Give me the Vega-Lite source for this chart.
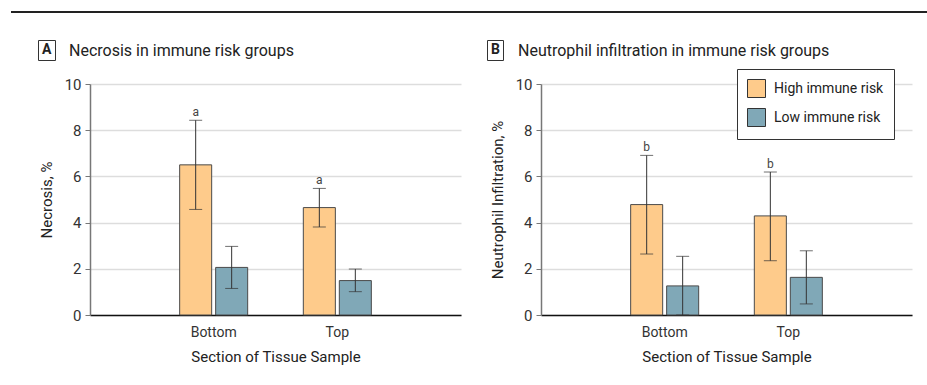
{
  "$schema": "https://vega.github.io/schema/vega-lite/v6.json",
  "background": "white",
  "padding": {"left": 11, "top": 6, "right": 0, "bottom": 5},
  "config": {
    "font": "Roboto, sans-serif",
    "view": {"stroke": null},
    "axis": {"labelColor": "#333", "titleColor": "#222", "labelFontSize": 15, "titleFontSize": 15, "titleFontWeight": "normal"},
    "legend": {"labelFontSize": 14, "labelColor": "#222"},
    "title": {"fontSize": 16, "fontWeight": "normal", "color": "#222", "anchor": "start", "frame": "group", "dy": 23}
  },
  "datasets": {
    "necrosis": [
      {"section": "Bottom", "group": "High immune risk", "mean": 6.5, "lower": 4.57, "upper": 8.43, "sig": "a"},
      {"section": "Bottom", "group": "Low immune risk", "mean": 2.06, "lower": 1.15, "upper": 2.97, "sig": ""},
      {"section": "Top", "group": "High immune risk", "mean": 4.65, "lower": 3.81, "upper": 5.48, "sig": "a"},
      {"section": "Top", "group": "Low immune risk", "mean": 1.49, "lower": 1.01, "upper": 1.99, "sig": ""}
    ],
    "neutrophil": [
      {"section": "Bottom", "group": "High immune risk", "mean": 4.78, "lower": 2.64, "upper": 6.91, "sig": "b"},
      {"section": "Bottom", "group": "Low immune risk", "mean": 1.26, "lower": 0, "upper": 2.54, "sig": ""},
      {"section": "Top", "group": "High immune risk", "mean": 4.29, "lower": 2.35, "upper": 6.19, "sig": "b"},
      {"section": "Top", "group": "Low immune risk", "mean": 1.63, "lower": 0.48, "upper": 2.78, "sig": ""}
    ]
  },
  "spacing": 22,
  "resolve": {"scale": {"color": "independent", "shape": "independent"}, "legend": {"color": "independent", "shape": "independent"}},
  "vconcat": [
    {
      "width": 916, "height": 2,
      "view": {"stroke": null, "fill": "#222"},
      "data": {"values": [{"t": ""}]},
      "mark": {"type": "text"},
      "encoding": {"text": {"field": "t"}}
    },
    {
      "spacing": 25,
      "resolve": {"scale": {"color": "independent", "shape": "independent"}, "legend": {"color": "independent", "shape": "independent"}},
      "hconcat": [
        {
          "width": 1, "height": 1,
          "data": {"values": [{"t": ""}]},
          "mark": {"type": "text"},
          "encoding": {"text": {"field": "t"}}
        },
        {
          "width": 371, "height": 231,
          "title": {"text": "Necrosis in immune risk groups", "dx": -21},
          "data": {"name": "necrosis"},
          "encoding": {
            "x": {"field": "section", "type": "nominal", "sort": ["Bottom", "Top"],
              "scale": {"paddingInner": 0.45, "paddingOuter": 0.725},
              "axis": {"title": "Section of Tissue Sample", "labelAngle": 0, "ticks": false, "domainColor": "#111", "domainWidth": 1.5, "labelPadding": 10, "labelFontSize": 14, "titlePadding": 10}},
            "xOffset": {"field": "group", "type": "nominal", "sort": ["High immune risk", "Low immune risk"], "scale": {"paddingInner": 0.11}}
          },
          "layer": [
            {
              "mark": {"type": "bar", "stroke": "#4a4a4a", "strokeWidth": 1},
              "encoding": {
                "y": {"field": "mean", "type": "quantitative", "title": "Necrosis, %",
                  "scale": {"domain": [0, 10]},
                  "axis": {"values": [0, 2, 4, 6, 8, 10], "tickSize": 5, "tickColor": "#777", "domainColor": "#777", "domainWidth": 1.5, "gridColor": "#dddddd", "gridWidth": 1.3, "labelPadding": 4, "titlePadding": 10}},
                "color": {"field": "group", "type": "nominal", "sort": ["High immune risk", "Low immune risk"],
                  "scale": {"domain": ["High immune risk", "Low immune risk"], "range": ["#FECB8B", "#80A8B7"]},
                  "legend": null}
              }
            },
            {
              "mark": {"type": "rule", "color": "#333", "strokeWidth": 1},
              "encoding": {"y": {"field": "lower", "type": "quantitative", "title": "Necrosis, %"}, "y2": {"field": "upper"}}
            },
            {
              "mark": {"type": "tick", "color": "#333", "size": 13, "thickness": 1},
              "encoding": {"y": {"field": "lower", "type": "quantitative", "title": "Necrosis, %"}}
            },
            {
              "mark": {"type": "tick", "color": "#333", "size": 13, "thickness": 1},
              "encoding": {"y": {"field": "upper", "type": "quantitative", "title": "Necrosis, %"}}
            },
            {
              "mark": {"type": "text", "fontSize": 12, "color": "#444", "dy": -8, "baseline": "middle"},
              "encoding": {"y": {"field": "upper", "type": "quantitative", "title": "Necrosis, %"}, "text": {"field": "sig"}}
            },
            {
              "mark": {"type": "point", "opacity": 0},
              "encoding": {
                "shape": {"datum": "A", "scale": {"range": ["square"]},
                  "legend": {"orient": "none", "legendX": -52, "legendY": -44, "title": null, "symbolSize": 1, "symbolOpacity": 0, "symbolStrokeWidth": 0, "labelOffset": -13, "padding": 3, "strokeColor": "#333", "fillColor": "white", "labelFontSize": 14, "labelFontWeight": "bold", "labelColor": "#222"}}
              }
            }
          ]
        },
        {
          "width": 371, "height": 231,
          "title": {"text": "Neutrophil infiltration in immune risk groups", "dx": -23},
          "data": {"name": "neutrophil"},
          "encoding": {
            "x": {"field": "section", "type": "nominal", "sort": ["Bottom", "Top"],
              "scale": {"paddingInner": 0.45, "paddingOuter": 0.725},
              "axis": {"title": "Section of Tissue Sample", "labelAngle": 0, "ticks": false, "domainColor": "#111", "domainWidth": 1.5, "labelPadding": 10, "labelFontSize": 14, "titlePadding": 10}},
            "xOffset": {"field": "group", "type": "nominal", "sort": ["High immune risk", "Low immune risk"], "scale": {"paddingInner": 0.11}}
          },
          "layer": [
            {
              "mark": {"type": "bar", "stroke": "#4a4a4a", "strokeWidth": 1},
              "encoding": {
                "y": {"field": "mean", "type": "quantitative", "title": "Neutrophil Infiltration, %",
                  "scale": {"domain": [0, 10]},
                  "axis": {"values": [0, 2, 4, 6, 8, 10], "tickSize": 5, "tickColor": "#777", "domainColor": "#777", "domainWidth": 1.5, "gridColor": "#dddddd", "gridWidth": 1.3, "labelPadding": 4, "titlePadding": 10}},
                "color": {"field": "group", "type": "nominal", "sort": ["High immune risk", "Low immune risk"],
                  "scale": {"domain": ["High immune risk", "Low immune risk"], "range": ["#FECB8B", "#80A8B7"]},
                  "legend": {"title": null, "orient": "none", "legendX": 196, "legendY": -15, "symbolType": "square", "symbolSize": 324, "symbolStrokeColor": "#333", "symbolStrokeWidth": 1, "symbolOpacity": 1, "labelOffset": 8, "rowPadding": 6, "padding": 10, "strokeColor": "#333", "fillColor": "white", "labelFontSize": 14}}
              }
            },
            {
              "mark": {"type": "rule", "color": "#333", "strokeWidth": 1},
              "encoding": {"y": {"field": "lower", "type": "quantitative", "title": "Neutrophil Infiltration, %"}, "y2": {"field": "upper"}}
            },
            {
              "mark": {"type": "tick", "color": "#333", "size": 13, "thickness": 1},
              "encoding": {"y": {"field": "lower", "type": "quantitative", "title": "Neutrophil Infiltration, %"}}
            },
            {
              "mark": {"type": "tick", "color": "#333", "size": 13, "thickness": 1},
              "encoding": {"y": {"field": "upper", "type": "quantitative", "title": "Neutrophil Infiltration, %"}}
            },
            {
              "mark": {"type": "text", "fontSize": 12, "color": "#444", "dy": -8, "baseline": "middle"},
              "encoding": {"y": {"field": "upper", "type": "quantitative", "title": "Neutrophil Infiltration, %"}, "text": {"field": "sig"}}
            },
            {
              "mark": {"type": "point", "opacity": 0},
              "encoding": {
                "shape": {"datum": "B", "scale": {"range": ["square"]},
                  "legend": {"orient": "none", "legendX": -54, "legendY": -44, "title": null, "symbolSize": 1, "symbolOpacity": 0, "symbolStrokeWidth": 0, "labelOffset": -13, "padding": 3, "strokeColor": "#333", "fillColor": "white", "labelFontSize": 14, "labelFontWeight": "bold", "labelColor": "#222"}}
              }
            }
          ]
        }
      ]
    }
  ]
}
